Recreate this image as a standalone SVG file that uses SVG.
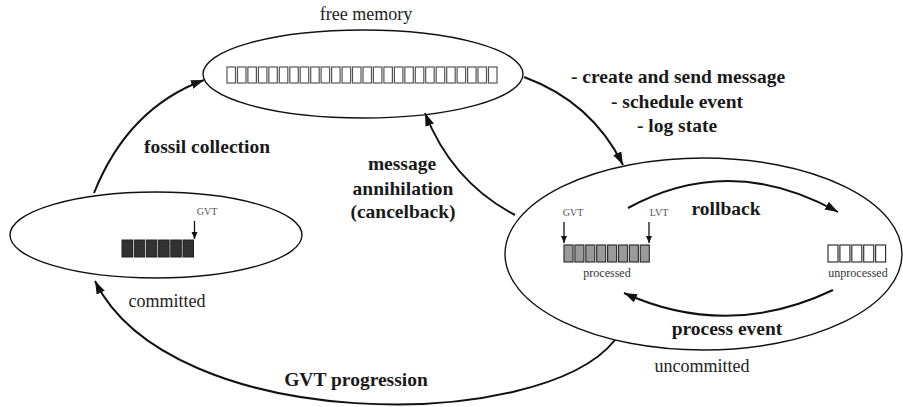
<svg xmlns="http://www.w3.org/2000/svg" width="903" height="407" viewBox="0 0 903 407">
  <defs>
    <marker id="head" markerUnits="userSpaceOnUse" markerWidth="14" markerHeight="10" refX="13" refY="4.5" orient="auto">
      <path d="M0,0 L13,4.5 L0,9 z" fill="#111"/>
    </marker>
    <marker id="tick" markerUnits="userSpaceOnUse" markerWidth="8" markerHeight="8" refX="7" refY="3" orient="auto">
      <path d="M0,0 L7,3 L0,6 z" fill="#111"/>
    </marker>
  </defs>
  <style>
    .state { fill: #fff; stroke: #111; stroke-width: 1.4; }
    .edge { fill: none; stroke: #111; stroke-width: 2; marker-end: url(#head); }
    .ptr { stroke: #111; stroke-width: 1.3; marker-end: url(#tick); }
    .lbl { font-family: "Liberation Serif", "Times New Roman", serif; font-weight: bold; font-size: 19.5px; fill: #1a1a1a; text-anchor: middle; }
    .cap { font-family: "Liberation Serif", "Times New Roman", serif; font-size: 18px; fill: #222; text-anchor: middle; }
    .small { font-family: "Liberation Serif", "Times New Roman", serif; font-size: 10px; fill: #555; text-anchor: middle; }
    .tiny { font-family: "Liberation Serif", "Times New Roman", serif; font-size: 12px; fill: #333; text-anchor: middle; }
    .free rect { fill: #fff; stroke: #555; stroke-width: 1.2; }
    .done rect { fill: #333; stroke: #222; stroke-width: 1; }
    .proc rect { fill: #9a9a9a; stroke: #333; stroke-width: 1.2; }
    .unproc rect { fill: #fff; stroke: #333; stroke-width: 1.2; }
  </style>
  <rect width="903" height="407" fill="#fff"/>

  <!-- free memory pool -->
  <g id="free-memory">
    <ellipse class="state" cx="363" cy="74" rx="160" ry="44"/>
    <text class="cap" x="366" y="20" font-size="19">free memory</text>
    <g class="free">
      <rect x="227" y="67" width="8.5" height="16"/>
      <rect x="237.5" y="67" width="8.5" height="16"/>
      <rect x="247.9" y="67" width="8.5" height="16"/>
      <rect x="258.4" y="67" width="8.5" height="16"/>
      <rect x="268.8" y="67" width="8.5" height="16"/>
      <rect x="279.3" y="67" width="8.5" height="16"/>
      <rect x="289.8" y="67" width="8.5" height="16"/>
      <rect x="300.2" y="67" width="8.5" height="16"/>
      <rect x="310.7" y="67" width="8.5" height="16"/>
      <rect x="321.1" y="67" width="8.5" height="16"/>
      <rect x="331.6" y="67" width="8.5" height="16"/>
      <rect x="342.1" y="67" width="8.5" height="16"/>
      <rect x="352.5" y="67" width="8.5" height="16"/>
      <rect x="363" y="67" width="8.5" height="16"/>
      <rect x="373.4" y="67" width="8.5" height="16"/>
      <rect x="383.9" y="67" width="8.5" height="16"/>
      <rect x="394.4" y="67" width="8.5" height="16"/>
      <rect x="404.8" y="67" width="8.5" height="16"/>
      <rect x="415.3" y="67" width="8.5" height="16"/>
      <rect x="425.7" y="67" width="8.5" height="16"/>
      <rect x="436.2" y="67" width="8.5" height="16"/>
      <rect x="446.7" y="67" width="8.5" height="16"/>
      <rect x="457.1" y="67" width="8.5" height="16"/>
      <rect x="467.6" y="67" width="8.5" height="16"/>
      <rect x="478" y="67" width="8.5" height="16"/>
      <rect x="488.5" y="67" width="8.5" height="16"/>
    </g>
  </g>

  <!-- committed events -->
  <g id="committed">
    <ellipse class="state" cx="156" cy="235" rx="146" ry="43"/>
    <g class="done">
      <rect x="122" y="240" width="10.5" height="17"/>
      <rect x="134.2" y="240" width="10.5" height="17"/>
      <rect x="146.4" y="240" width="10.5" height="17"/>
      <rect x="158.6" y="240" width="10.5" height="17"/>
      <rect x="170.8" y="240" width="10.5" height="17"/>
      <rect x="183" y="240" width="10.5" height="17"/>
    </g>
    <text class="small" x="207" y="215">GVT</text>
    <line class="ptr" x1="194.5" y1="221" x2="194.5" y2="239"/>
    <text class="cap" x="167" y="307">committed</text>
  </g>

  <!-- uncommitted events -->
  <g id="uncommitted">
    <ellipse class="state" cx="703.5" cy="254" rx="198.5" ry="96"/>
    <g class="proc">
      <rect x="564" y="245" width="9" height="17"/>
      <rect x="574.9" y="245" width="9" height="17"/>
      <rect x="585.8" y="245" width="9" height="17"/>
      <rect x="596.7" y="245" width="9" height="17"/>
      <rect x="607.6" y="245" width="9" height="17"/>
      <rect x="618.5" y="245" width="9" height="17"/>
      <rect x="629.4" y="245" width="9" height="17"/>
      <rect x="640.3" y="245" width="9" height="17"/>
    </g>
    <g class="unproc">
      <rect x="828" y="245" width="10" height="17"/>
      <rect x="839.9" y="245" width="10" height="17"/>
      <rect x="851.8" y="245" width="10" height="17"/>
      <rect x="863.7" y="245" width="10" height="17"/>
      <rect x="875.6" y="245" width="10" height="17"/>
    </g>
    <text class="small" x="573" y="216">GVT</text>
    <line class="ptr" x1="564" y1="222" x2="564" y2="243"/>
    <text class="small" x="659" y="216">LVT</text>
    <line class="ptr" x1="649" y1="222" x2="649" y2="243"/>
    <text class="tiny" x="607" y="277">processed</text>
    <text class="tiny" x="858" y="277">unprocessed</text>
    <text class="cap" x="702" y="372">uncommitted</text>
  </g>

  <!-- transitions -->
  <g id="connectors">
    <path class="edge" d="M94,193 Q128,108 204,80"/>
    <path class="edge" d="M524,77 Q592,102 623,165"/>
    <path class="edge" d="M515,215 Q452,182 425,113"/>
    <path class="edge" d="M628,208 Q730,152 838,212"/>
    <path class="edge" d="M833,290 Q728,340 624,293"/>
    <path class="edge" d="M615,340 C540,434 170,434 95,281"/>
  </g>

  <g id="labels">
    <text class="lbl" x="207" y="153">fossil collection</text>
    <text class="lbl" x="678" y="83">- create and send message</text>
    <text class="lbl" x="677" y="108">- schedule event</text>
    <text class="lbl" x="677" y="132">- log state</text>
    <text class="lbl" x="402" y="170">message</text>
    <text class="lbl" x="403" y="195">annihilation</text>
    <text class="lbl" x="403" y="218">(cancelback)</text>
    <text class="lbl" x="726" y="215">rollback</text>
    <text class="lbl" x="727" y="335">process event</text>
    <text class="lbl" x="356" y="386">GVT progression</text>
  </g>
</svg>
